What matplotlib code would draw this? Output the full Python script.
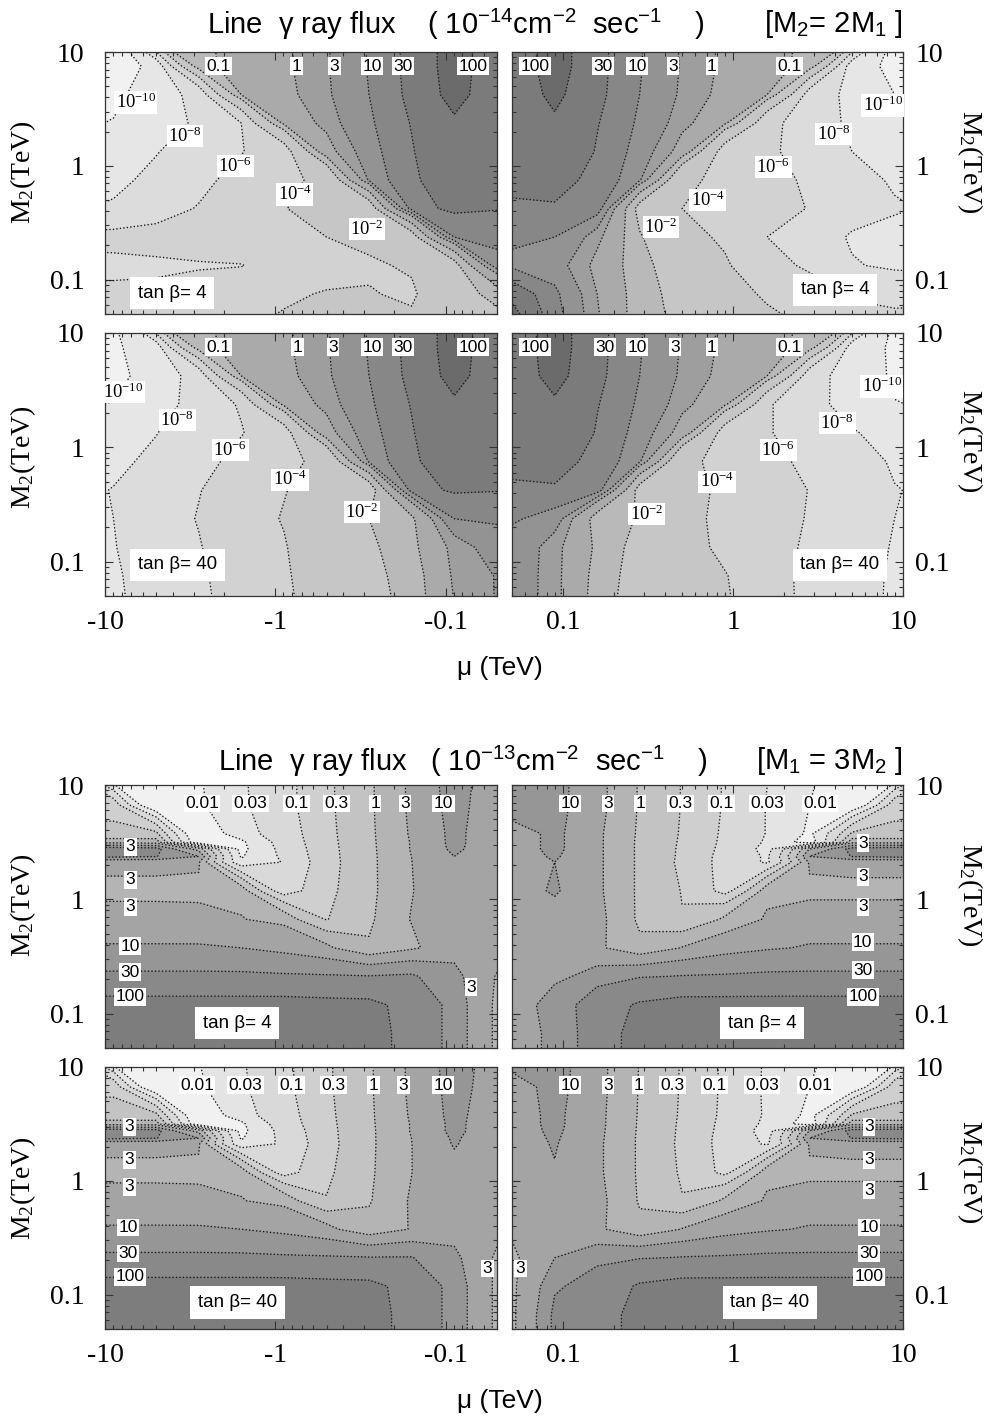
import numpy as np
import matplotlib
matplotlib.use('Agg')
import matplotlib.pyplot as plt
from matplotlib.ticker import FixedLocator, LogLocator, NullFormatter, FuncFormatter

plt.rcParams['mathtext.default'] = 'regular'
plt.rcParams['font.family'] = 'Liberation Serif'
SANS = 'Liberation Sans'
SERIF = 'Liberation Serif'

# ---------------- data (log10 of the line-gamma flux on a grid of log10|mu|, log10 M2) -------------
MU_LOG = [-1.3, -1.05, -0.8, -0.55, -0.3, -0.05, 0.2, 0.45, 0.7, 0.95, 1.2]
M2_LOG_TOP = [1.125, 0.875, 0.625, 0.375, 0.125, -0.125, -0.375, -0.625, -0.875, -1.125, -1.375]
M2_LOG_BOT = [1.075, 0.825, 0.575, 0.5, 0.44, 0.375, 0.325, 0.075, -0.175, -0.425, -0.675, -0.925, -1.175, -1.425]

# top group, units 1e-14 cm^-2 s^-1 ; rows top->bottom, columns as displayed left->right
FLUX_A = [  # tan beta = 4, mu < 0
    [-11.5, -11.0, -1.5, -1.2, -0.75, -0.15, 0.4, 1.03, 1.6, 2.2, 1.8],
    [-11.2, -11.0, -9.6, -1.25, -0.75, -0.15, 0.42, 1.03, 1.6, 2.2, 1.8],
    [-11.0, -10.6, -9.0, -7.5, -1.0, -0.25, 0.38, 1.0, 1.58, 2.15, 1.8],
    [-10.5, -9.9, -8.8, -7.8, -6.0, -0.8, 0.2, 0.9, 1.5, 1.95, 1.75],
    [-9.5, -9.3, -8.1, -7.2, -6.1, -5.0, -0.3, 0.75, 1.45, 1.75, 1.7],
    [-8.9, -8.5, -7.6, -6.6, -5.4, -4.6, -3.5, 0.55, 1.4, 1.7, 1.7],
    [-8.2, -7.8, -6.9, -5.9, -5.0, -4.1, -3.2, -2.8, 1.2, 1.6, 1.5],
    [-5.6, -5.5, -5.4, -5.2, -4.8, -4.4, -4.0, -3.3, -2.6, 1.0, 1.2],
    [-6.3, -6.3, -6.2, -6.1, -6.05, -5.5, -4.8, -4.3, -3.8, -2.5, 0.8],
    [-5.8, -5.8, -5.8, -5.6, -5.2, -4.3, -3.9, -3.9, -4.2, -3.0, -1.5],
    [-5.8, -5.8, -5.7, -5.5, -4.3, -3.8, -3.6, -3.6, -3.8, -3.5, -2.5],
]
FLUX_B = [  # tan beta = 4, mu > 0
    [1.8, 2.2, 1.6, 1.03, 0.4, -0.15, -0.75, -1.2, -1.5, -10.8, -11.5],
    [1.8, 2.2, 1.6, 1.03, 0.42, -0.15, -0.75, -1.25, -9.3, -10.5, -11.0],
    [1.8, 2.1, 1.58, 1.0, 0.38, -0.25, -1.0, -7.0, -8.6, -10.0, -10.6],
    [1.75, 1.95, 1.5, 0.9, 0.2, -0.8, -5.6, -6.9, -8.5, -9.3, -9.8],
    [1.7, 1.75, 1.45, 0.75, -0.3, -5.0, -5.8, -6.6, -8.0, -8.6, -9.0],
    [1.65, 1.6, 1.35, 0.55, -3.6, -4.6, -5.5, -6.3, -7.3, -8.3, -8.6],
    [1.4, 1.45, 1.3, -2.5, -4.0, -4.4, -5.3, -6.1, -7.0, -7.8, -8.3],
    [1.1, 1.0, 0.2, -1.9, -3.5, -4.3, -6.0, -7.2, -8.2, -8.5, -8.6],
    [0.9, 0.7, -0.2, -1.7, -2.8, -3.8, -5.5, -6.3, -7.9, -8.3, -8.5],
    [1.8, 1.1, 0.0, -1.6, -2.5, -3.3, -4.3, -5.3, -6.3, -6.8, -6.8],
    [2.3, 1.2, 0.1, -1.6, -2.3, -3.0, -3.6, -4.3, -5.2, -5.4, -5.3],
]
FLUX_C = [  # tan beta = 40, mu < 0
    [-11.0, -10.2, -1.5, -1.2, -0.75, -0.15, 0.4, 1.03, 1.6, 2.2, 1.8],
    [-10.6, -10.3, -9.2, -1.25, -0.75, -0.15, 0.42, 1.03, 1.6, 2.2, 1.8],
    [-10.8, -10.6, -9.3, -7.3, -1.0, -0.25, 0.38, 1.0, 1.58, 2.15, 1.8],
    [-10.2, -9.95, -8.6, -7.6, -5.8, -0.8, 0.2, 0.9, 1.5, 1.95, 1.75],
    [-9.6, -9.3, -8.05, -7.2, -6.1, -5.0, -0.3, 0.75, 1.45, 1.75, 1.7],
    [-9.0, -8.4, -7.7, -6.7, -5.5, -4.6, -3.5, 0.55, 1.4, 1.7, 1.7],
    [-8.5, -7.95, -6.9, -6.1, -5.0, -4.1, -3.2, -2.8, 1.2, 1.55, 1.5],
    [-8.4, -8.0, -7.3, -5.9, -5.0, -3.9, -3.0, -2.0, -1.2, 1.0, 1.1],
    [-8.6, -8.1, -7.1, -6.1, -5.2, -4.1, -3.2, -2.3, -1.3, 0.2, 0.7],
    [-8.8, -8.3, -7.2, -6.3, -5.3, -4.2, -3.3, -2.4, -1.6, 0.1, 0.5],
    [-8.8, -8.4, -7.3, -6.4, -5.4, -4.3, -3.4, -2.5, -1.7, 0.0, 0.5],
]
FLUX_D = [  # tan beta = 40, mu > 0
    [1.8, 2.2, 1.6, 1.03, 0.4, -0.15, -0.75, -1.2, -1.5, -10.2, -11.0],
    [1.8, 2.2, 1.6, 1.03, 0.42, -0.15, -0.75, -1.25, -9.2, -10.3, -10.6],
    [1.8, 2.15, 1.58, 1.0, 0.38, -0.25, -1.0, -7.3, -9.0, -10.3, -10.6],
    [1.75, 1.95, 1.5, 0.9, 0.2, -0.8, -5.8, -7.6, -8.6, -9.95, -10.2],
    [1.7, 1.75, 1.45, 0.75, -0.3, -5.0, -5.9, -6.8, -7.9, -8.6, -9.0],
    [1.65, 1.6, 1.35, 0.55, -3.6, -4.6, -5.5, -6.5, -7.4, -8.2, -8.5],
    [1.4, 1.45, 1.3, -2.5, -3.7, -4.2, -5.3, -6.05, -7.0, -7.95, -8.3],
    [1.05, 0.8, -1.5, -2.1, -3.4, -4.6, -5.5, -6.1, -7.2, -8.0, -8.4],
    [0.85, 0.2, -1.2, -2.6, -3.3, -4.5, -5.4, -6.3, -7.0, -8.2, -8.6],
    [0.8, 0.2, -1.4, -2.7, -3.3, -3.9, -5.5, -6.4, -7.3, -8.3, -8.6],
    [0.8, 0.2, -1.5, -2.8, -3.4, -3.8, -5.3, -6.5, -7.4, -8.3, -8.6],
]

# bottom group, units 1e-13 cm^-2 s^-1
FLUX_E = [  # tan beta = 4, mu < 0
    [-0.7, -2.6, -2.5, -2.05, -1.6, -1.2, -0.65, -0.1, 0.55, 1.2, 0.8],
    [-0.65, -0.65, -2.6, -2.1, -1.62, -1.2, -0.66, -0.1, 0.55, 1.15, 0.8],
    [-0.45, -0.45, -0.4, -2.5, -1.75, -1.3, -0.7, -0.12, 0.52, 1.1, 0.8],
    [0.3, 0.3, 0.25, -2.4, -2.1, -1.35, -0.72, -0.13, 0.5, 1.1, 0.8],
    [1.8, 1.8, 1.7, 0.3, -2.15, -1.4, -0.74, -0.14, 0.5, 1.08, 0.8],
    [1.6, 1.6, 1.5, 1.0, -2.05, -1.45, -0.75, -0.15, 0.48, 1.0, 0.8],
    [0.6, 0.6, 0.6, 0.55, -1.9, -1.5, -0.77, -0.15, 0.47, 0.95, 0.8],
    [0.38, 0.38, 0.38, 0.38, 0.3, -1.3, -0.7, -0.15, 0.45, 0.85, 0.8],
    [0.6, 0.6, 0.6, 0.58, 0.5, 0.35, -0.55, -0.1, 0.5, 0.8, 0.8],
    [1.05, 1.05, 1.05, 1.05, 1.0, 0.85, 0.6, 0.05, 0.4, 0.7, 0.7],
    [1.55, 1.55, 1.55, 1.55, 1.55, 1.53, 1.52, 1.5, 1.55, 1.2, 0.45],
    [2.15, 2.15, 2.15, 2.15, 2.15, 2.15, 2.12, 2.1, 1.9, 1.35, 0.4],
    [2.3, 2.3, 2.3, 2.3, 2.3, 2.3, 2.25, 2.15, 1.9, 1.35, 0.4],
    [2.3, 2.3, 2.3, 2.3, 2.3, 2.3, 2.25, 2.15, 1.9, 1.35, 0.4],
]
FLUX_F = [  # tan beta = 4, mu > 0
    [1.3, 1.15, 0.6, -0.05, -0.55, -1.05, -1.5, -1.95, -2.3, -2.5, -0.7],
    [1.25, 1.15, 0.6, -0.05, -0.55, -1.05, -1.55, -2.0, -2.5, -0.65, -0.65],
    [0.85, 1.1, 0.55, -0.08, -0.58, -1.1, -1.55, -2.1, -0.45, -0.45, -0.45],
    [0.85, 1.1, 0.55, -0.1, -0.6, -1.12, -1.6, -2.3, 0.3, 0.3, 0.3],
    [0.85, 1.1, 0.55, -0.1, -0.62, -1.15, -1.7, 0.5, 1.7, 1.8, 1.8],
    [0.85, 1.05, 0.55, -0.1, -0.63, -1.2, -1.6, 1.0, 1.5, 1.6, 1.6],
    [0.85, 1.0, 0.55, -0.1, -0.65, -1.2, -1.6, 0.55, 0.6, 0.6, 0.6],
    [0.85, 1.05, 0.55, -0.1, -0.55, -1.2, 0.3, 0.4, 0.4, 0.4, 0.4],
    [0.8, 0.85, 0.6, -0.1, -0.5, 0.1, 0.55, 0.6, 0.6, 0.6, 0.6],
    [0.8, 0.75, 0.55, 0.1, 0.5, 0.8, 0.95, 1.05, 1.05, 1.05, 1.05],
    [0.8, 0.9, 1.2, 1.45, 1.5, 1.52, 1.55, 1.55, 1.55, 1.55, 1.55],
    [0.8, 1.2, 1.85, 2.05, 2.15, 2.15, 2.15, 2.15, 2.15, 2.15, 2.15],
    [0.75, 1.15, 1.85, 2.15, 2.3, 2.3, 2.3, 2.3, 2.3, 2.3, 2.3],
    [0.75, 1.15, 1.85, 2.15, 2.3, 2.3, 2.3, 2.3, 2.3, 2.3, 2.3],
]
FLUX_G = [  # tan beta = 40, mu < 0
    [-0.7, -2.6, -2.45, -2.0, -1.58, -1.15, -0.62, -0.08, 0.55, 1.2, 0.85],
    [-0.6, -0.6, -2.6, -2.1, -1.62, -1.15, -0.63, -0.08, 0.55, 1.15, 0.85],
    [-0.42, -0.42, -0.38, -2.5, -1.75, -1.25, -0.68, -0.1, 0.52, 1.12, 0.8],
    [0.3, 0.3, 0.25, -2.4, -2.1, -1.3, -0.7, -0.11, 0.5, 1.1, 0.8],
    [1.8, 1.8, 1.7, 0.3, -2.15, -1.38, -0.72, -0.12, 0.5, 1.1, 0.8],
    [1.6, 1.6, 1.5, 1.0, -2.05, -1.42, -0.73, -0.12, 0.48, 1.05, 0.8],
    [0.6, 0.6, 0.6, 0.55, -1.9, -1.45, -0.75, -0.12, 0.47, 1.03, 0.8],
    [0.38, 0.38, 0.38, 0.38, 0.3, -1.25, -0.65, -0.1, 0.47, 0.9, 0.8],
    [0.6, 0.6, 0.6, 0.58, 0.5, 0.35, -0.5, -0.05, 0.52, 0.8, 0.75],
    [1.05, 1.05, 1.05, 1.05, 1.0, 0.87, 0.65, 0.15, 0.5, 0.7, 0.6],
    [1.55, 1.55, 1.55, 1.55, 1.55, 1.53, 1.52, 1.5, 1.5, 1.15, 0.42],
    [2.15, 2.15, 2.15, 2.15, 2.15, 2.15, 2.12, 2.1, 1.9, 1.35, 0.4],
    [2.3, 2.3, 2.3, 2.3, 2.3, 2.3, 2.25, 2.15, 1.9, 1.35, 0.4],
    [2.3, 2.3, 2.3, 2.3, 2.3, 2.3, 2.25, 2.15, 1.9, 1.35, 0.4],
]
FLUX_H = [  # tan beta = 40, mu > 0
    [1.2, 1.2, 0.6, -0.02, -0.57, -1.1, -1.6, -1.93, -2.3, -2.5, -0.7],
    [0.85, 1.15, 0.6, -0.03, -0.58, -1.1, -1.62, -2.0, -2.5, -0.65, -0.65],
    [0.85, 1.1, 0.58, -0.05, -0.6, -1.12, -1.6, -2.15, -0.45, -0.45, -0.45],
    [0.85, 1.1, 0.58, -0.06, -0.62, -1.15, -1.65, -2.3, 0.3, 0.3, 0.3],
    [0.85, 1.08, 0.57, -0.07, -0.63, -1.17, -1.75, 0.5, 1.7, 1.8, 1.8],
    [0.85, 1.05, 0.56, -0.08, -0.64, -1.2, -1.65, 1.0, 1.5, 1.6, 1.6],
    [0.85, 1.03, 0.55, -0.08, -0.65, -1.2, -1.6, 0.55, 0.6, 0.6, 0.6],
    [0.85, 0.98, 0.55, -0.08, -0.6, -1.15, 0.3, 0.4, 0.4, 0.4, 0.4],
    [0.8, 0.85, 0.6, -0.05, -0.5, 0.1, 0.55, 0.6, 0.6, 0.6, 0.6],
    [0.55, 0.75, 0.55, 0.1, 0.5, 0.8, 0.95, 1.05, 1.05, 1.05, 1.05],
    [0.4, 1.0, 1.3, 1.45, 1.5, 1.52, 1.55, 1.55, 1.55, 1.55, 1.55],
    [0.4, 1.4, 1.8, 2.05, 2.15, 2.15, 2.15, 2.15, 2.15, 2.15, 2.15],
    [0.4, 1.6, 1.85, 2.15, 2.3, 2.3, 2.3, 2.3, 2.3, 2.3, 2.3],
    [0.4, 1.6, 1.85, 2.15, 2.3, 2.3, 2.3, 2.3, 2.3, 2.3, 2.3],
]

# contour levels (log10 flux) and their printed labels
LEVELS_TOP = [-10, -8, -6, -4, -2, -1, 0, np.log10(3), 1, np.log10(30), 2]
TEXT_TOP = ['$10^{-10}$', '$10^{-8}$', '$10^{-6}$', '$10^{-4}$', '$10^{-2}$',
            '0.1', '1', '3', '10', '30', '100']
LEVELS_BOT = [-2, np.log10(0.03), -1, np.log10(0.3), 0, np.log10(3), 1, np.log10(30), 2]
TEXT_BOT = ['0.01', '0.03', '0.1', '0.3', '1', '3', '10', '30', '100']

COLORS_TOP = ['#f1f1f1', '#e6e6e6', '#dcdcdc', '#d2d2d2', '#c6c6c6', '#b9b9b9',
              '#aaaaaa', '#9e9e9e', '#939393', '#878787', '#7b7b7b', '#6b6b6b']
COLORS_BOT = ['#f1f1f1', '#e4e4e4', '#d9d9d9', '#cfcfcf', '#c3c3c3', '#b4b4b4',
              '#a4a4a4', '#969696', '#898989', '#7d7d7d']

# contour-label spots: (level index, |mu| TeV, M2 TeV)
SPOTS_A = [(5, 2.16, 7.5), (6, 0.75, 7.5), (7, 0.45, 7.5), (8, 0.27, 7.5), (9, 0.177, 7.5), (10, 0.069, 7.5),
           (0, 6.6, 3.6), (1, 3.39, 1.83), (2, 1.72, 1.0), (3, 0.77, 0.56), (4, 0.29, 0.28)]
SPOTS_B = [(10, 0.068, 7.5), (9, 0.172, 7.5), (8, 0.272, 7.5), (7, 0.444, 7.5), (6, 0.75, 7.5), (5, 2.16, 7.5),
           (0, 7.6, 3.4), (1, 3.9, 1.9), (2, 1.72, 0.98), (3, 0.71, 0.5), (4, 0.377, 0.29)]
SPOTS_C = [(5, 2.16, 7.5), (6, 0.74, 7.5), (7, 0.46, 7.5), (8, 0.27, 7.5), (9, 0.177, 7.5), (10, 0.069, 7.5),
           (0, 7.8, 3.05), (1, 3.77, 1.74), (2, 1.84, 0.95), (3, 0.82, 0.52), (4, 0.31, 0.27)]
SPOTS_D = [(10, 0.068, 7.5), (9, 0.177, 7.5), (8, 0.272, 7.5), (7, 0.456, 7.5), (6, 0.75, 7.5), (5, 2.16, 7.5),
           (0, 7.5, 3.4), (1, 4.1, 1.63), (2, 1.84, 0.95), (3, 0.805, 0.5), (4, 0.31, 0.26)]
SPOTS_E = [(0, 2.69, 6.9), (1, 1.4, 6.9), (2, 0.75, 6.9), (3, 0.44, 6.9), (4, 0.26, 6.9), (5, 0.174, 6.9),
           (6, 0.103, 6.9), (5, 7.1, 2.87), (5, 7.1, 1.48), (5, 7.1, 0.86), (6, 7.1, 0.39), (7, 7.1, 0.23),
           (8, 7.1, 0.14), (5, 0.071, 0.17)]
SPOTS_F = [(6, 0.11, 6.9), (5, 0.184, 6.9), (4, 0.284, 6.9), (3, 0.49, 6.9), (2, 0.86, 6.9), (1, 1.58, 6.9),
           (0, 3.25, 6.9), (5, 5.8, 3.1), (5, 5.8, 1.57), (5, 5.8, 0.86), (6, 5.8, 0.42), (7, 5.8, 0.24),
           (8, 5.8, 0.14)]
SPOTS_G = [(0, 2.88, 6.9), (1, 1.5, 6.9), (2, 0.805, 6.9), (3, 0.456, 6.9), (4, 0.265, 6.9), (5, 0.177, 6.9),
           (6, 0.104, 6.9), (5, 7.2, 2.98), (5, 7.2, 1.53), (5, 7.2, 0.885), (6, 7.3, 0.39), (7, 7.3, 0.23),
           (8, 7.1, 0.144), (5, 0.057, 0.17)]
SPOTS_H = [(6, 0.11, 6.9), (5, 0.184, 6.9), (4, 0.276, 6.9), (3, 0.44, 6.9), (2, 0.78, 6.9), (1, 1.48, 6.9),
           (0, 3.03, 6.9), (5, 6.3, 2.98), (5, 6.3, 1.53), (5, 6.3, 0.83), (6, 6.3, 0.39), (7, 6.3, 0.23),
           (8, 6.3, 0.144), (5, 0.056, 0.17)]

TANB = ['tan β= 4', 'tan β= 4', 'tan β= 40', 'tan β= 40',
        'tan β= 4', 'tan β= 4', 'tan β= 40', 'tan β= 40']

# ---------------- drawing ----------------
W, H = 995.0, 1420.0
fig = plt.figure(figsize=(W / 100, H / 100), dpi=100)


def add_ax(left_px, top_px, right_px, bottom_px):
    return fig.add_axes([left_px / W, 1 - bottom_px / H, (right_px - left_px) / W, (bottom_px - top_px) / H])


def style(ax, side, show_x):
    ax.set_xscale('log')
    ax.set_yscale('log')
    if side == 'left':
        ax.set_xlim(10, 0.05)
    else:
        ax.set_xlim(0.05, 10)
    ax.set_ylim(0.05, 10)
    for axis in (ax.xaxis, ax.yaxis):
        axis.set_major_locator(FixedLocator([0.1, 1, 10]))
        axis.set_minor_locator(LogLocator(base=10, subs=np.arange(2, 10)))
        axis.set_minor_formatter(NullFormatter())
    sign = '-' if side == 'left' else ''
    ax.xaxis.set_major_formatter(FuncFormatter(lambda x, p: sign + '%g' % x))
    ax.yaxis.set_major_formatter(FuncFormatter(lambda y, p: '%g' % y))
    ax.tick_params(which='both', direction='in', top=True, bottom=True, left=True, right=True,
                   color='#333333', width=0.8)
    ax.tick_params(which='major', length=6)
    ax.tick_params(which='minor', length=3)
    ax.tick_params(axis='x', labelbottom=show_x, labelsize=20, pad=10)
    if side == 'left':
        ax.tick_params(axis='y', labelleft=True, labelright=False, labelsize=20, pad=15)
    else:
        ax.tick_params(axis='y', labelleft=False, labelright=True, labelsize=20, pad=9)
    for s in ax.spines.values():
        s.set_color('#333333')
        s.set_linewidth(0.9)


def panel(ax, field, m2_nodes, side, levels, texts, colors, spots, tanb, tanb_xy, lab_size):
    Z = np.array(field, dtype=float)
    if side == 'left':
        Z = Z[:, ::-1]
    Z = Z[::-1, :]
    u = np.array(MU_LOG, dtype=float)
    v = np.array(m2_nodes, dtype=float)[::-1]
    X = 10.0 ** u
    Y = 10.0 ** v
    bounds = [-99.0] + list(levels) + [99.0]
    ax.contourf(X, Y, Z, levels=bounds, colors=colors)
    ax.contour(X, Y, Z, levels=levels, colors='#151515', linestyles=':', linewidths=0.95)
    for idx, mx, my in spots:
        txt = texts[idx]
        if txt.startswith('$'):
            fam, fs = SERIF, lab_size + 0.8
        else:
            fam, fs = SANS, lab_size
        ax.text(mx, my, txt, ha='center', va='center', fontsize=fs, family=fam, zorder=5,
                bbox=dict(boxstyle='square,pad=0.08', fc='white', ec='none'))
    ax.text(tanb_xy[0], tanb_xy[1], tanb, transform=ax.transAxes, ha='center', va='center',
            fontsize=13.5, family=SANS, zorder=6,
            bbox=dict(boxstyle='square,pad=0.42', fc='white', ec='none'))
    style(ax, side, False)


# panel frames in pixels
L0, L1, R0, R1 = 105, 497, 512, 903
ROWS = [(52, 314), (333, 596), (785, 1048), (1067, 1329)]

axA = add_ax(L0, ROWS[0][0], L1, ROWS[0][1])
axB = add_ax(R0, ROWS[0][0], R1, ROWS[0][1])
axC = add_ax(L0, ROWS[1][0], L1, ROWS[1][1])
axD = add_ax(R0, ROWS[1][0], R1, ROWS[1][1])
axE = add_ax(L0, ROWS[2][0], L1, ROWS[2][1])
axF = add_ax(R0, ROWS[2][0], R1, ROWS[2][1])
axG = add_ax(L0, ROWS[3][0], L1, ROWS[3][1])
axH = add_ax(R0, ROWS[3][0], R1, ROWS[3][1])

panel(axA, FLUX_A, M2_LOG_TOP, 'left', LEVELS_TOP, TEXT_TOP, COLORS_TOP, SPOTS_A, TANB[0], (0.171, 0.08), 12.5)
panel(axB, FLUX_B, M2_LOG_TOP, 'right', LEVELS_TOP, TEXT_TOP, COLORS_TOP, SPOTS_B, TANB[1], (0.826, 0.092), 12.5)
panel(axC, FLUX_C, M2_LOG_TOP, 'left', LEVELS_TOP, TEXT_TOP, COLORS_TOP, SPOTS_C, TANB[2], (0.186, 0.118), 12.5)
panel(axD, FLUX_D, M2_LOG_TOP, 'right', LEVELS_TOP, TEXT_TOP, COLORS_TOP, SPOTS_D, TANB[3], (0.839, 0.118), 12.5)
panel(axE, FLUX_E, M2_LOG_BOT, 'left', LEVELS_BOT, TEXT_BOT, COLORS_BOT, SPOTS_E, TANB[4], (0.337, 0.095), 12.5)
panel(axF, FLUX_F, M2_LOG_BOT, 'right', LEVELS_BOT, TEXT_BOT, COLORS_BOT, SPOTS_F, TANB[5], (0.639, 0.095), 12.5)
panel(axG, FLUX_G, M2_LOG_BOT, 'left', LEVELS_BOT, TEXT_BOT, COLORS_BOT, SPOTS_G, TANB[6], (0.339, 0.10), 12.5)
panel(axH, FLUX_H, M2_LOG_BOT, 'right', LEVELS_BOT, TEXT_BOT, COLORS_BOT, SPOTS_H, TANB[7], (0.66, 0.10), 12.5)

for ax in (axC, axD, axG, axH):
    ax.tick_params(axis='x', labelbottom=True)

# axis titles
for yc in (172, 457, 905, 1188):
    fig.text(23 / W, 1 - yc / H, 'M$_2$(TeV)', rotation=90, ha='center', va='center',
             fontsize=20, family=SERIF)
for yc in (162, 441, 895, 1172):
    fig.text(970 / W, 1 - yc / H, 'M$_2$(TeV)', rotation=270, ha='center', va='center',
             fontsize=20, family=SERIF)
for yc in (668, 1401):
    fig.text(500 / W, 1 - yc / H, 'μ (TeV)', ha='center', va='center', fontsize=19, family=SANS)

# headings
fig.text(207 / W, 1 - 24 / H, 'Line  γ ray flux    ( 10$^{-14}$cm$^{-2}$  sec$^{-1}$    )',
         ha='left', va='center', fontsize=21, family=SANS)
fig.text(903 / W, 1 - 24 / H, '[M$_2$= 2M$_1$ ]', ha='right', va='center', fontsize=21, family=SANS)
fig.text(218 / W, 1 - 761 / H, 'Line  γ ray flux   ( 10$^{-13}$cm$^{-2}$  sec$^{-1}$    )',
         ha='left', va='center', fontsize=21, family=SANS)
fig.text(903 / W, 1 - 761 / H, '[M$_1$ = 3M$_2$ ]', ha='right', va='center', fontsize=21, family=SANS)

fig.savefig('out.png', dpi=100, facecolor='white')
